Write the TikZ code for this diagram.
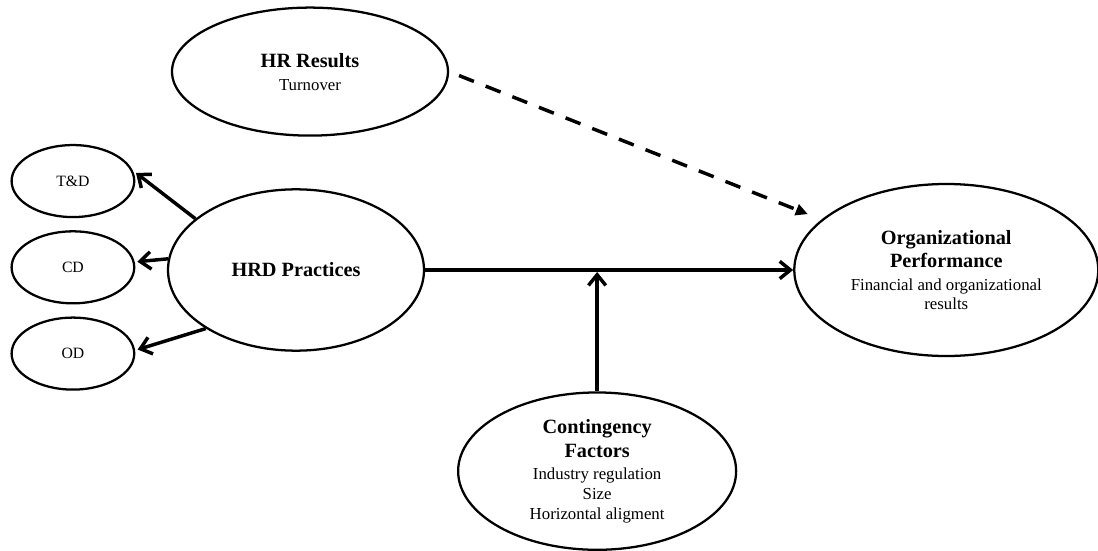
\documentclass[tikz,border=0pt]{standalone}
\usepackage{fontspec}
\setmainfont{Liberation Serif}
\usetikzlibrary{arrows.meta,positioning,shapes.geometric}
\newcommand{\headtext}[1]{{\fontsize{15.2}{18}\selectfont\bfseries #1}}
\tikzset{
  bigoval/.style={
    draw=black,
    ellipse,
    line width=1.7pt,
    align=center,
    inner sep=0pt,
    font=\fontsize{12.6}{14.8}\selectfont
  },
  smalloval/.style={
    draw=black,
    ellipse,
    line width=1.7pt,
    inner sep=0pt,
    minimum width=92pt,
    minimum height=54pt,
    font=\fontsize{11.8}{14}\selectfont
  },
  arrow/.style={
    -{Straight Barb[length=8pt,width=13pt]},
    line width=2.6pt
  },
  dasharrow/.style={
    -{Triangle[length=9pt,width=8.5pt]},
    line width=2.6pt,
    dash pattern=on 12pt off 9.5pt
  }
}

\begin{document}
\begin{tikzpicture}
\useasboundingbox (-222pt,-210pt) rectangle (601.5pt,202.5pt);

\node[bigoval, minimum width=192pt, minimum height=121pt] (hrd) at (0,0) {\headtext{HRD Practices}};

\node[smalloval, left=23.6pt of hrd, yshift=2pt] (cd) {CD};
\node[smalloval, above=9pt of cd] (td) {T\&D};
\node[smalloval, below=9pt of cd] (od) {OD};

\node[bigoval, minimum width=207pt, minimum height=96pt, above=38.6pt of hrd, xshift=10.5pt] (hr) {
  \headtext{HR Results}\\[2.5pt]
  Turnover
};

\node[bigoval, minimum width=228pt, minimum height=129pt, right=276pt of hrd] (org) {
  \headtext{Organizational}\\[3pt]
  \headtext{Performance}\\[2pt]
  Financial and organizational\\
  results
};

\coordinate[right=129pt of hrd.east] (junct);

\node[bigoval, minimum width=208.5pt, minimum height=118pt, below=91pt of junct] (cont) {
  \headtext{Contingency}\\[3pt]
  \headtext{Factors}\\[2pt]
  Industry regulation\\
  Size\\
  Horizontal aligment
};

\draw[arrow, shorten >=3pt] (hrd.153) -- (td.10);
\draw[arrow, shorten >=2pt] (hrd.175) -- (cd.5);
\draw[arrow, shorten >=2pt] (hrd.213) -- (od.3);
\draw[arrow] (hrd) -- (org);
\draw[arrow, shorten >=1.5pt] (cont) -- (junct);
\draw[dasharrow, shorten <=8pt, shorten >=11pt] (hr.east) -- (org.158);

\end{tikzpicture}
\end{document}
